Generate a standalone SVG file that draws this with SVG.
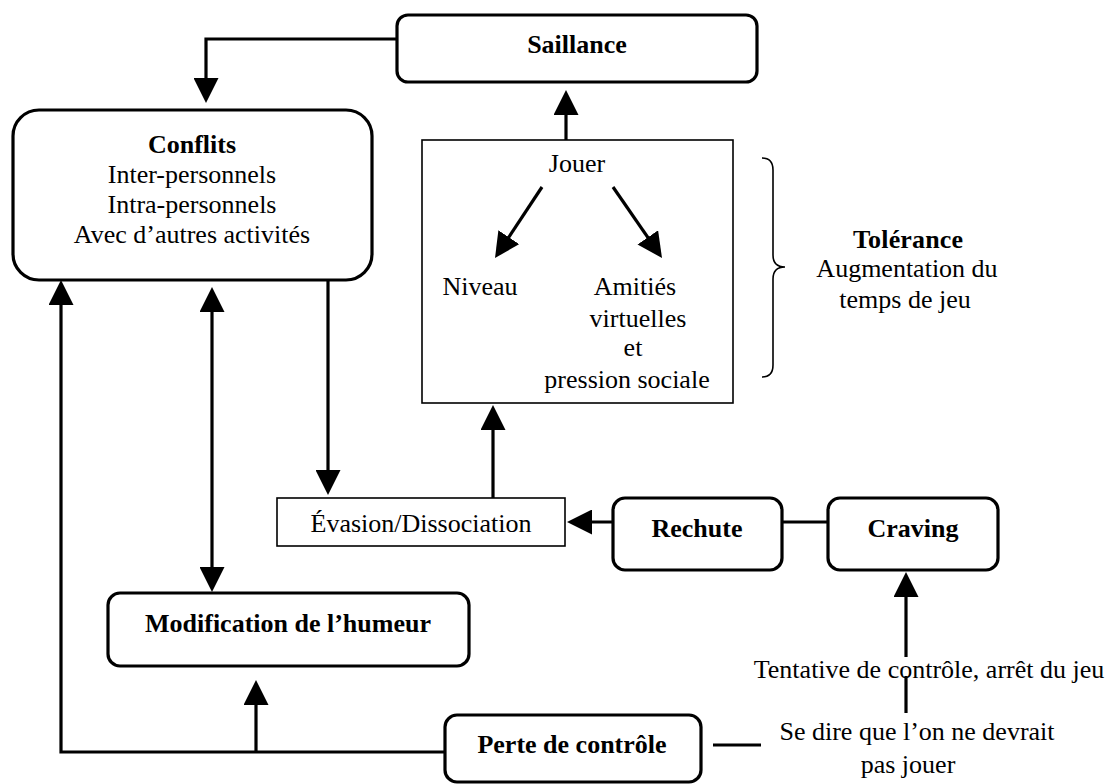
<svg xmlns="http://www.w3.org/2000/svg" width="1112" height="784" viewBox="0 0 1112 784">
<style>
text{font-family:"Liberation Serif","Times New Roman",serif;font-size:26px;fill:#000;text-anchor:middle}
.b{font-weight:bold}
.rb{fill:#fff;stroke:#000;stroke-width:3.2}
.pb{fill:#fff;stroke:#000;stroke-width:1.6}
.c{fill:none;stroke:#000;stroke-width:3.2}
.ca{fill:none;stroke:#000;stroke-width:3.2;marker-end:url(#ah)}
</style>
<defs>
<marker id="ah" viewBox="0 0 10 10" refX="5" refY="5" markerWidth="25" markerHeight="25" markerUnits="userSpaceOnUse" orient="auto-start-reverse">
<path d="M0,0 L10,5 L0,10 Z" fill="#000"/>
</marker>
</defs>
<rect width="1112" height="784" fill="#fff"/>
<g id="connectors">
<path class="ca" d="M397,39 H206 V90.5"/>
<path class="ca" d="M566,140 V102.5"/>
<path class="ca" d="M328,280 V482.5"/>
<path class="ca" d="M493,498 V417.5"/>
<path class="ca" d="M613,522 H579.5"/>
<path class="c" d="M782,522 H828"/>
<path class="ca" d="M906,657 V584.5"/>
<path class="c" d="M906,676 V713"/>
<path class="c" d="M713,745 H761"/>
<path class="ca" d="M445,752 H61 V292.5"/>
<path class="ca" d="M256,752 V692.5"/>
<path class="ca" style="marker-start:url(#ah)" d="M212,299.5 V579.5"/>
<path fill="none" stroke="#000" stroke-width="1.6" d="M762,158 Q773,158 773,170 V255 Q773,267 785,267 Q773,267 773,279 V365 Q773,377 762,377"/>
</g>
<g id="saillance">
<rect class="rb" x="397" y="15" width="360" height="67" rx="11"/>
<text class="b" x="577" y="53">Saillance</text>
</g>
<g id="conflits">
<rect class="rb" x="13" y="110" width="359" height="170" rx="26"/>
<text class="b" x="192" y="153">Conflits</text>
<text x="192" y="183">Inter-personnels</text>
<text x="192" y="213">Intra-personnels</text>
<text x="192" y="243">Avec d’autres activités</text>
</g>
<g id="jouer">
<rect class="pb" x="422" y="140" width="311" height="263"/>
<text x="577" y="172">Jouer</text>
<path class="ca" d="M542,187 L501.9,247.6"/>
<path class="ca" d="M613,187 L654.9,247.7"/>
<text x="480" y="295">Niveau</text>
<text x="635" y="295">Amitiés</text>
<text x="638" y="327">virtuelles</text>
<text x="633" y="356">et</text>
<text x="627" y="388">pression sociale</text>
</g>
<g id="tolerance">
<text class="b" x="908" y="248" textLength="110" lengthAdjust="spacing">Tolérance</text>
<text x="907" y="277">Augmentation du</text>
<text x="905" y="308">temps de jeu</text>
</g>
<g id="evasion">
<rect class="pb" x="277" y="498" width="288" height="48"/>
<text x="421" y="532">Évasion/Dissociation</text>
</g>
<g id="rechute">
<rect class="rb" x="613" y="498" width="169" height="72" rx="12"/>
<text class="b" x="697" y="537">Rechute</text>
</g>
<g id="craving">
<rect class="rb" x="828" y="498" width="170" height="72" rx="12"/>
<text class="b" x="913" y="537">Craving</text>
</g>
<g id="modification">
<rect class="rb" x="108" y="593" width="361" height="73" rx="12"/>
<text class="b" x="288" y="632">Modification de l’humeur</text>
</g>
<g id="perte">
<rect class="rb" x="445" y="715" width="256" height="67" rx="12"/>
<text class="b" x="572" y="753">Perte de contrôle</text>
</g>
<g id="tentative">
<text x="929" y="678">Tentative de contrôle, arrêt du jeu</text>
</g>
<g id="sedire">
<text x="917" y="740">Se dire que l’on ne devrait</text>
<text x="908" y="773">pas jouer</text>
</g>
</svg>
